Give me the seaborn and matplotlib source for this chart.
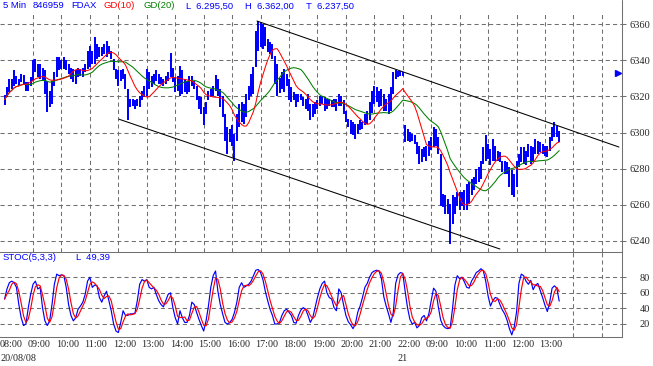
import numpy as np
import pandas as pd
import seaborn as sns
import matplotlib
matplotlib.use('Agg')
import matplotlib.pyplot as plt
from matplotlib import transforms
from matplotlib.lines import Line2D

# ------------------------------- DATA ------------------------------- #

# 5 minute FDAX bars, one slot per bar (day 1: 0-168, day 2: 169-234)
bar_low = [
    6315.5, 6319.6, 6322.4, 6324.2, 6326.0, 6327.0, 6326.0, 6328.0, 6327.0, 6323.3,
    6323.0, 6326.0, 6328.8, 6333.4, 6330.7, 6329.7, 6328.8, 6321.4, 6311.3, 6314.0,
    6316.0, 6326.0, 6330.7, 6334.4, 6335.3, 6335.3, 6334.4, 6332.5, 6329.7, 6328.0,
    6327.0, 6330.7, 6331.6, 6330.7, 6333.4, 6335.3, 6336.2, 6338.0, 6338.0, 6340.8,
    6341.7, 6342.7, 6343.6, 6341.7, 6343.6, 6340.8, 6334.4, 6329.7, 6326.0, 6328.8,
    6329.7, 6324.2, 6306.7, 6314.0, 6315.0, 6313.0, 6315.0, 6314.0, 6317.8, 6319.6,
    6320.5, 6324.2, 6325.0, 6327.0, 6328.8, 6327.0, 6327.0, 6326.0, 6327.0, 6328.8,
    6330.7, 6328.0, 6322.4, 6323.3, 6320.5, 6321.4, 6322.4, 6321.4, 6322.4, 6326.0,
    6324.2, 6317.8, 6313.1, 6310.4, 6304.0, 6310.4, 6317.8, 6319.6, 6320.5, 6323.3,
    6320.5, 6314.0, 6308.5, 6295.6, 6288.3, 6294.7, 6292.8, 6284.5, 6295.6, 6303.0,
    6305.8, 6304.9, 6308.5, 6317.8, 6320.5, 6321.4, 6336.2, 6345.4, 6347.3, 6346.3,
    6348.2, 6344.5, 6343.6, 6340.8, 6327.0, 6320.5, 6322.0, 6324.2, 6322.4, 6326.0,
    6317.8, 6316.8, 6317.8, 6314.0, 6316.8, 6317.8, 6315.0, 6313.1, 6312.2, 6306.7,
    6308.5, 6310.4, 6313.1, 6315.0, 6315.9, 6312.2, 6313.1, 6315.0, 6314.0, 6314.0,
    6312.2, 6315.0, 6315.0, 6310.4, 6305.8, 6303.0, 6299.4, 6298.4, 6296.6, 6299.4,
    6301.2, 6302.1, 6304.0, 6304.9, 6306.7, 6311.0, 6315.9, 6316.8, 6314.0, 6315.0,
    6312.2, 6312.2, 6310.4, 6312.2, 6321.4, 6329.7, 6330.7, 6331.6, 6331.6, 6294.7,
    6295.6, 6294.7, 6295.6, 6293.8, 6288.3, 6282.6, 6283.5, 6286.4, 6284.5, 6287.3,
    6290.1, 6291.9, 6292.8, 6288.3, 6259.6, 6258.7, 6255.0, 6255.0, 6238.4, 6249.5,
    6255.0, 6259.6, 6257.1, 6259.6, 6257.1, 6256.9, 6260.6, 6265.2, 6268.0, 6271.6,
    6272.5, 6274.4, 6282.7, 6284.5, 6285.4, 6281.8, 6284.5, 6284.5, 6284.5, 6283.6,
    6278.1, 6277.2, 6277.2, 6269.8, 6265.2, 6264.3, 6269.8, 6280.9, 6283.6, 6282.7,
    6281.8, 6286.4, 6282.7, 6284.5, 6288.2, 6288.2, 6289.2, 6288.2, 6287.3, 6286.4,
    6290.0, 6295.6, 6297.4, 6297.4, 6294.7]

bar_high = [
    6321.0, 6325.1, 6329.7, 6329.7, 6334.4, 6331.6, 6329.7, 6332.5, 6332.0, 6328.0,
    6328.0, 6330.7, 6340.0, 6340.8, 6338.0, 6338.0, 6336.0, 6334.4, 6328.8, 6323.3,
    6328.8, 6333.4, 6341.7, 6341.7, 6340.0, 6341.7, 6340.0, 6338.0, 6336.0, 6335.3,
    6334.4, 6336.0, 6335.3, 6336.0, 6338.0, 6345.4, 6348.2, 6345.4, 6352.8, 6349.0,
    6347.3, 6347.3, 6349.0, 6351.0, 6348.2, 6345.4, 6340.8, 6335.3, 6334.4, 6334.4,
    6335.3, 6332.5, 6324.2, 6318.7, 6318.7, 6317.8, 6318.7, 6320.5, 6323.3, 6326.0,
    6335.3, 6333.4, 6331.6, 6332.5, 6334.4, 6332.5, 6330.7, 6329.7, 6331.6, 6333.4,
    6344.0, 6336.0, 6330.7, 6331.6, 6337.0, 6334.4, 6329.7, 6328.8, 6331.6, 6331.6,
    6328.8, 6326.0, 6320.5, 6319.6, 6314.0, 6316.8, 6323.3, 6324.2, 6326.0, 6332.0,
    6329.7, 6324.2, 6320.5, 6310.4, 6303.0, 6302.0, 6304.0, 6299.4, 6310.4, 6315.9,
    6316.8, 6315.9, 6321.4, 6326.0, 6332.5, 6336.2, 6356.5, 6361.7, 6361.1, 6360.2,
    6358.3, 6351.9, 6350.0, 6349.0, 6342.7, 6338.0, 6330.0, 6333.4, 6335.3, 6332.5,
    6329.7, 6325.1, 6322.4, 6321.4, 6321.4, 6321.4, 6319.6, 6318.7, 6321.4, 6315.9,
    6315.9, 6316.8, 6317.8, 6320.5, 6320.5, 6319.6, 6318.7, 6318.7, 6317.8, 6318.7,
    6318.7, 6321.4, 6320.5, 6317.8, 6312.2, 6307.6, 6306.7, 6305.8, 6304.9, 6304.9,
    6306.7, 6305.8, 6310.4, 6312.2, 6316.8, 6323.3, 6326.0, 6325.1, 6323.3, 6324.2,
    6321.4, 6318.7, 6321.4, 6325.1, 6333.4, 6334.4, 6334.0, 6334.0, 6333.4, 6304.0,
    6302.0, 6300.4, 6299.4, 6298.4, 6294.7, 6292.8, 6291.0, 6291.9, 6292.8, 6295.6,
    6297.4, 6302.9, 6302.1, 6297.4, 6288.3, 6266.0, 6265.2, 6263.3, 6260.6, 6265.2,
    6264.3, 6267.0, 6267.0, 6267.0, 6268.0, 6271.6, 6272.5, 6274.4, 6275.3, 6280.0,
    6280.9, 6284.5, 6291.9, 6298.4, 6293.8, 6291.0, 6296.5, 6292.8, 6290.0, 6289.2,
    6284.5, 6284.5, 6283.6, 6280.9, 6279.1, 6277.2, 6284.5, 6288.2, 6291.9, 6291.9,
    6290.0, 6293.8, 6292.8, 6291.9, 6296.5, 6295.6, 6294.7, 6293.8, 6292.8, 6292.8,
    6297.4, 6303.0, 6305.8, 6303.9, 6301.0]

# stochastic %K (5,3,3)
stoc_k = [
    52, 65, 73, 75, 73, 67, 45, 28, 18, 20, 41, 58, 71, 75, 65, 67, 41, 24, 18, 24,
    45, 71, 84, 82, 83, 82, 67, 45, 31, 24, 28, 39, 43, 48, 58, 75, 80, 67, 70, 69,
    54, 48, 56, 62, 50, 37, 20, 11, 9, 22, 37, 31, 31, 33, 33, 34, 50, 71, 77, 75,
    77, 67, 65, 67, 58, 50, 45, 42, 50, 58, 60, 41, 28, 20, 37, 28, 22, 22, 31, 48,
    45, 35, 26, 18, 11, 24, 43, 67, 82, 88, 62, 45, 33, 22, 20, 22, 26, 35, 48, 67,
    73, 67, 69, 71, 75, 82, 89, 90, 86, 77, 62, 50, 39, 31, 20, 20, 22, 31, 37, 39,
    35, 31, 22, 21, 31, 38, 41, 39, 31, 22, 28, 41, 54, 65, 72, 75, 60, 54, 52, 41,
    37, 65, 60, 45, 31, 23, 19, 14, 20, 35, 43, 54, 67, 72, 80, 86, 88, 89, 88, 78,
    55, 43, 33, 22, 35, 72, 83, 86, 85, 62, 41, 26, 20, 22, 15, 18, 28, 31, 24, 33,
    50, 66, 62, 42, 25, 18, 15, 14, 15, 40, 70, 82, 78, 80, 74, 67, 66, 75, 80, 86,
    88, 91, 88, 75, 56, 43, 50, 54, 53, 45, 38, 33, 25, 14, 6, 16, 35, 72, 84, 82,
    75, 71, 76, 64, 70, 72, 63, 54, 44, 36, 48, 66, 69, 66, 49.39]

# time axis
hour_slots = [0, 12, 24, 36, 48, 60, 72, 84, 96, 108, 120, 132, 144, 156, 168,
              180, 192, 204, 216, 228]
hour_labels = ['08:00', '09:00', '10:00', '11:00', '12:00', '13:00', '14:00',
               '15:00', '16:00', '17:00', '18:00', '19:00', '20:00', '21:00',
               '22:00', '09:00', '10:00', '11:00', '12:00', '13:00']
grid_slots = list(range(12, 253, 12))
date_labels = ['20/08/08', '21']
date_slots = [-1.9, 168]

price_ticks = [6240, 6260, 6280, 6300, 6320, 6340, 6360]
stoc_ticks = [20, 40, 60, 80]

# channel lines (slot, price)
upper_slot = [106.5, 259.2]
upper_price = [6361.8, 6292.0]
lower_slot = [48.3, 209.0]
lower_price = [6307.4, 6235.5]

# price flag at the right edge
flag_slot = [259]
flag_price = [6333]

# ------------------------------- PLOT ------------------------------- #

W, H = 653, 366
GRID = '#707070'
DASH = (0, (4, 3))

sns.set_style('white')
plt.rcParams['font.family'] = ['Liberation Serif', 'DejaVu Serif']

df = pd.DataFrame({'slot': np.arange(len(bar_low)), 'low': bar_low,
                   'high': bar_high, 'k': stoc_k})
df['mid'] = (df['low'] + df['high']) / 2
df['gd10'] = df['mid'].rolling(10, min_periods=1).mean()
df['gd20'] = df['mid'].rolling(20, min_periods=1).mean()
df['d'] = df['k'].rolling(3, min_periods=1).mean()

fig = plt.figure(figsize=(W / 100, H / 100), dpi=100)
ax = fig.add_axes([0, 1 - 252 / H, 622 / W, (252 - 14) / H])
ax2 = fig.add_axes([0, 1 - 337 / H, 622 / W, (337 - 252) / H])

# price panel
ax.vlines(df['slot'], df['low'], df['high'], color='#0000ff', lw=1.15,
          antialiased=False, zorder=3)
sns.lineplot(data=df, x='slot', y='gd20', ax=ax, color='#007f00', lw=0.75, zorder=4)
sns.lineplot(data=df, x='slot', y='gd10', ax=ax, color='#ff0000', lw=0.75, zorder=5)
ax.plot(upper_slot, upper_price, color='black', lw=0.75, zorder=6)
ax.plot(lower_slot, lower_price, color='black', lw=0.75, zorder=6)
ax.plot(flag_slot, flag_price, marker='>', color='#0000ff', ms=4, ls='none', zorder=6)

# stochastic panel
sns.lineplot(data=df, x='slot', y='k', ax=ax2, color='#0000ff', lw=0.85, zorder=3)
sns.lineplot(data=df, x='slot', y='d', ax=ax2, color='#ff0000', lw=0.85, zorder=4)

xlim = (-1.94, 260.5)
for a in (ax, ax2):
    a.set_xlim(*xlim)
    a.set_xlabel('')
    a.set_ylabel('')
    a.set_xticks(grid_slots, minor=True)
    a.grid(which='minor', axis='x', color=GRID, ls=DASH, lw=0.75)
    a.grid(which='major', axis='y', color=GRID, ls=DASH, lw=0.75)
    a.yaxis.tick_right()
    a.tick_params(axis='y', which='major', direction='out', length=3, width=0.75,
                  color=GRID, labelsize=7.5, pad=17.3)
    a.tick_params(axis='x', which='both', length=0)
    for side in ('left', 'top', 'bottom'):
        a.spines[side].set_visible(False)
    a.spines['right'].set_color(GRID)
    a.spines['right'].set_linewidth(0.75)

ax.set_ylim(6233.85, 6365.7)
ax.set_yticks(price_ticks)
ax.set_xticks([])
ax.set_xticks(grid_slots, minor=True)

ax2.set_ylim(3.3, 112.4)
ax2.set_yticks(stoc_ticks)
for side in ('top', 'bottom'):
    ax2.spines[side].set_visible(True)
    ax2.spines[side].set_color(GRID)
    ax2.spines[side].set_linewidth(0.75)

for a in (ax, ax2):
    for lab in a.get_yticklabels():
        lab.set_horizontalalignment('right')

ax2.set_xticks(hour_slots)
ax2.set_xticklabels(hour_labels, fontsize=7.3)
ax2.tick_params(axis='x', which='major', pad=2)
shift = transforms.ScaledTranslation(6 / 100, 0, fig.dpi_scale_trans)
for lab in ax2.get_xticklabels():
    lab.set_transform(lab.get_transform() + shift)

# date row under the hours
date_tf = transforms.blended_transform_factory(ax2.transData, ax2.transAxes)
ax2.text(date_slots[0], -0.25, date_labels[0], transform=date_tf, ha='left',
         va='center', fontsize=7.3)
ax2.text(date_slots[1], -0.25, date_labels[1], transform=date_tf, ha='center',
         va='center', fontsize=7.3)

# right axis line runs up to the top edge
fig.add_artist(Line2D([622 / W, 622 / W], [1 - 14 / H, 1], color=GRID, lw=0.75))

# header texts
sans = ['Liberation Sans', 'DejaVu Sans']
header = [(3, '5 Min', '#0000ff'), (33, '846959', '#0000ff'), (71, 'FDAX', '#0000ff'),
          (104, 'GD(10)', '#ff0000'), (143, 'GD(20)', '#007f00'),
          (186, 'L  6.295,50', '#0000ff'), (245, 'H  6.362,00', '#0000ff'),
          (306, 'T  6.237,50', '#0000ff')]
for x, txt, col in header:
    fig.text(x / W, 1 - 6 / H, txt, color=col, family=sans, fontsize=6.8,
             ha='left', va='center')
fig.text(3 / W, 1 - 257 / H, 'STOC(5,3,3)', color='#0000ff', family=sans,
         fontsize=6.8, ha='left', va='center')
fig.text(76 / W, 1 - 257 / H, 'L  49,39', color='#0000ff', family=sans,
         fontsize=6.8, ha='left', va='center')

fig.savefig('out.png', dpi=100)
